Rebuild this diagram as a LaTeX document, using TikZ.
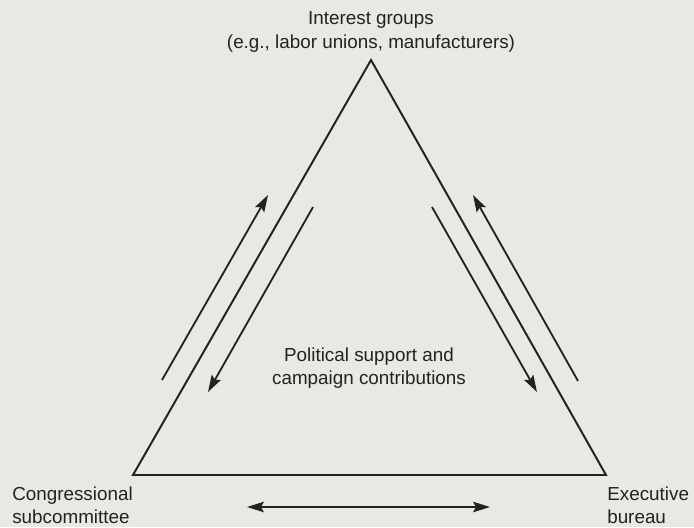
\documentclass[tikz,border=0pt]{standalone}
\usepackage{fontspec}
\setmainfont{Liberation Sans}
\usetikzlibrary{arrows.meta}

\definecolor{paper}{RGB}{234,232,227}
\definecolor{ink}{RGB}{34,34,34}

\begin{document}
\begin{tikzpicture}[x=0.025cm, y=-0.025cm,
	labeltext/.style={font=\fontsize{13.4}{16.5}\selectfont, text=ink, inner sep=0pt},
	side/.style={ink, line width=1.4pt, line join=miter},
	flow/.style={ink, line width=1.3pt},
	tip/.tip={Stealth[length=0.42cm, width=0.26cm, inset=0.07cm]}]

	% draw paper background
	\fill[paper] (0,0) rectangle (694,527);

	% draw triangle corners
	\coordinate (top) at (371,60);
	\coordinate (left) at (133,475);
	\coordinate (right) at (606,475);

	% draw triangle outline
	\draw[side] (top) -- (left) -- (right) -- cycle;

	% draw labels
	\node[labeltext, align=center] (groups) at (371,32) {Interest groups\\(e.g., labor unions, manufacturers)};
	\node[labeltext, align=left, anchor=west] (congress) at (12,505) {Congressional\\subcommittee};
	\node[labeltext, align=left, anchor=west] (bureau) at (607,505) {Executive\\bureau};
	\node[labeltext, align=center] (support) at (369,368) {Political support and\\campaign contributions};

	% draw arrow ends
	\coordinate (lo1) at (162,380);
	\coordinate (lo2) at (268,195);
	\coordinate (li1) at (313,207);
	\coordinate (li2) at (208,392);
	\coordinate (ri1) at (432,207);
	\coordinate (ri2) at (537,392);
	\coordinate (ro1) at (578,381);
	\coordinate (ro2) at (473,195);
	\coordinate (b1) at (247,507);
	\coordinate (b2) at (490,507);

	% draw the flows
	\draw[flow, -tip] (lo1) -- (lo2);
	\draw[flow, -tip] (li1) -- (li2);
	\draw[flow, -tip] (ri1) -- (ri2);
	\draw[flow, -tip] (ro1) -- (ro2);
	\draw[flow, tip-tip] (b1) -- (b2);
\end{tikzpicture}
\end{document}
